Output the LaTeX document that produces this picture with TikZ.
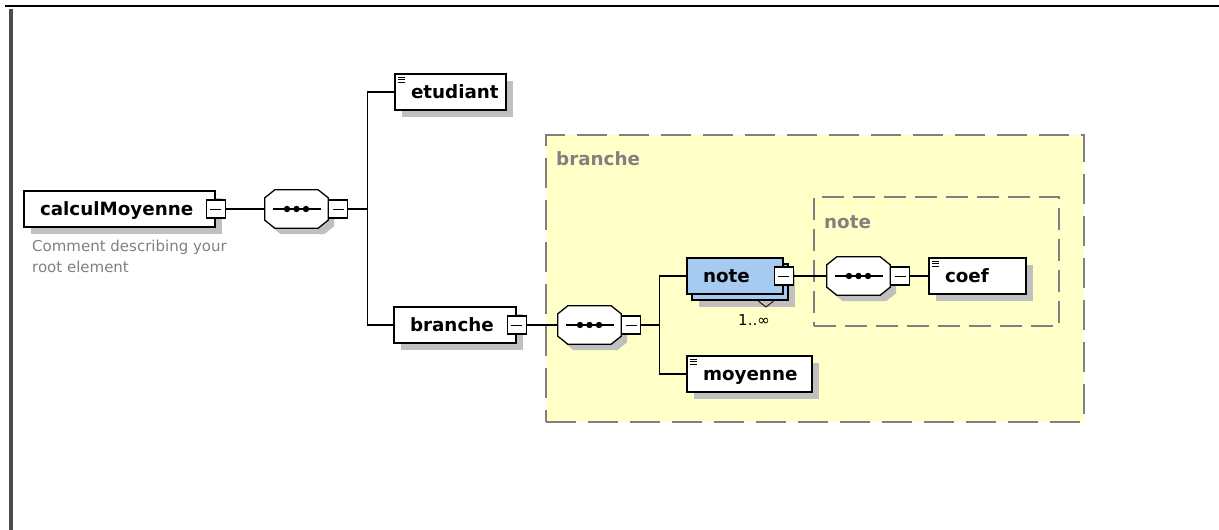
\documentclass[tikz,border=0pt]{standalone}
\usepackage{fontspec}
\setmainfont{DejaVu Sans}
\usetikzlibrary{shadows,positioning}
\definecolor{boxyellow}{RGB}{255,255,200}
\definecolor{noteblue}{RGB}{166,202,240}
\definecolor{shadowgray}{RGB}{192,192,192}
\definecolor{framegray}{RGB}{128,128,128}
\tikzset{
	conn/.style={line width=1.3pt},
	elembase/.style={draw,line width=1.3pt,fill=white,minimum height=36pt,inner xsep=16pt,inner ysep=0pt,align=left,text width=#1,font=\fontsize{18.3}{20}\selectfont\bfseries,text height=13.2pt,text depth=0pt},
	elem/.style={elembase=#1,drop shadow={shadow xshift=7pt,shadow yshift=-7pt,fill=shadowgray,opacity=1}},
	elemmulti/.style={elembase=#1,fill=noteblue,drop shadow={shadow xshift=12pt,shadow yshift=-13pt,fill=shadowgray,opacity=1},general shadow={shadow xshift=5pt,shadow yshift=-6pt,fill=noteblue,draw=black,line width=1.3pt}},
	icon/.style={path picture={\draw[line width=1pt] ([shift={(3,3)}]path picture bounding box.north west) -- ++(7,0) ([shift={(3,5.5)}]path picture bounding box.north west) -- ++(7,0) ([shift={(3,8)}]path picture bounding box.north west) -- ++(7,0);}},
	minus/.style={draw,fill=white,line width=1.1pt,minimum width=19pt,minimum height=18pt,inner sep=0pt,path picture={\draw[line width=1pt] ([xshift=-5.5pt]path picture bounding box.center) -- ([xshift=5.5pt]path picture bounding box.center);}},
	seqbox/.style={minimum width=63pt,minimum height=38pt,inner sep=0pt},
	seqline/.style={draw,line width=1.3pt,fill=white,preaction={fill=shadowgray,transform canvas={xshift=6pt,yshift=-6pt}}},
	grp/.style={draw=framegray,line width=1.6pt,dash pattern=on 30pt off 12pt,anchor=north west,inner sep=0pt},
	grplabel/.style={anchor=west,inner sep=0pt,text=framegray,font=\fontsize{18.3}{20}\selectfont\bfseries},
	comment/.style={anchor=north west,inner sep=0pt,align=left,text=framegray,font=\fontsize{15}{21}\selectfont},
	card/.style={inner sep=0pt,font=\fontsize{15}{17}\selectfont}
}
% sequence compositor: name, position
\newcommand{\seqnode}[2]{%
	\node[seqbox] (#1) at (#2) {};
	\draw[seqline] ([xshift=10pt]#1.north west) -- ([xshift=-10pt]#1.north east) -- ([yshift=-8pt]#1.north east) -- ([yshift=8pt]#1.south east) -- ([xshift=-10pt]#1.south east) -- ([xshift=10pt]#1.south west) -- ([yshift=8pt]#1.south west) -- ([yshift=-8pt]#1.north west) -- cycle;
	\draw[line width=1.2pt] ([xshift=-24pt]#1.center) -- ([xshift=24pt]#1.center);
	\fill ([xshift=-9.5pt]#1.center) circle (3.2pt) (#1.center) circle (3.2pt) ([xshift=9.5pt]#1.center) circle (3.2pt);
}
\begin{document}
\begin{tikzpicture}[x=1pt,y=-1pt]
	\useasboundingbox (0,0) rectangle (1219,530);
	\draw[line width=2.5pt] (5,6) -- (1219,6);
	\draw[line width=4pt,black!70] (11,9) -- (11,530);

	% groups
	\node[grp,fill=boxyellow,minimum width=538pt,minimum height=287pt] (grpBran) at (545,134) {};
	\node[grplabel] (grpBranL) at ([xshift=11pt,yshift=-25pt]grpBran.north west) {branche};
	\node[grp,dash pattern=on 22pt off 9pt,minimum width=245pt,minimum height=129pt] (grpNote) at (813,196) {};
	\node[grplabel] (grpNoteL) at ([xshift=11pt,yshift=-26pt]grpNote.north west) {note};

	% elements
	\node[elem=159] (calcM) at (119.5,209) {calculMoyenne};
	\node[minus] (calcMm) at (calcM.east) {};
	\node[comment] (calcMc) at (32,240) {Comment describing your\\root element};
	\seqnode{seqA}{296.5,209}
	\node[minus,anchor=west] (seqAm) at (seqA.east) {};
	\node[elem=79,icon] (etud) at (450.5,92) {etudiant};
	\node[elem=90] (bran) at (455,325) {branche};
	\node[minus] (branm) at (bran.east) {};
	\seqnode{seqB}{589.5,325}
	\node[minus,anchor=west] (seqBm) at (seqB.east) {};
	\node[elemmulti=64] (note) at (735,276) {note};
	\node[minus] (notem) at (note.east) {};
	\draw[line width=0.8pt] (757,300) -- (766,307) -- (775,300);
	\node[card] (noteCard) at (754,320) {1..∞};
	\seqnode{seqC}{858.5,276}
	\node[minus,anchor=west] (seqCm) at (seqC.east) {};
	\node[elem=65,icon] (coef) at (977.5,276) {coef};
	\node[elem=93,icon] (moy) at (749.5,374) {moyenne};

	% connectors
	\draw[conn] (calcMm) -- (seqA);
	\draw[conn] (seqAm.east) -- ++(19,0) coordinate (jA) |- (etud.west);
	\draw[conn] (jA) |- (bran.west);
	\draw[conn] (branm) -- (seqB);
	\draw[conn] (seqBm.east) -- ++(18,0) coordinate (jB) |- (note.west);
	\draw[conn] (jB) |- (moy.west);
	\draw[conn] (notem) -- (seqC);
	\draw[conn] (seqCm) -- (coef);
\end{tikzpicture}
\end{document}
